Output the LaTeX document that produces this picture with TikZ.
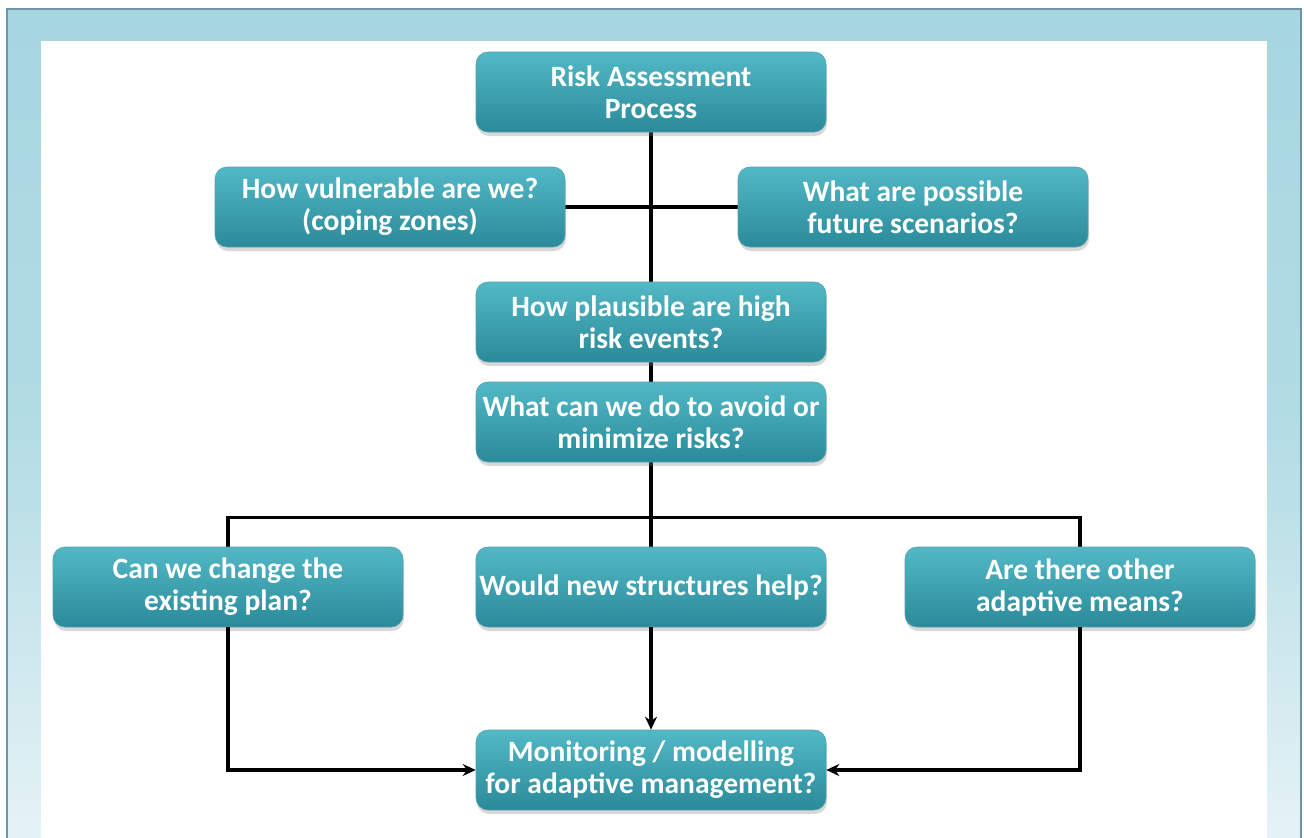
\documentclass[tikz,border=0pt]{standalone}
\usepackage{fontspec}
\setmainfont{Carlito}
\usepackage{tikz}
\usetikzlibrary{arrows.meta,shadows}
\pgfdeclarelayer{frame}
\pgfdeclarelayer{background}
\pgfsetlayers{frame,background,main}
\definecolor{framec}{HTML}{6E94A8}
\definecolor{bandtop}{HTML}{A6D6E0}
\definecolor{bandbot}{HTML}{E6F3F6}
\definecolor{boxtop}{HTML}{52B8C6}
\definecolor{boxmid}{HTML}{36A1B2}
\definecolor{boxbot}{HTML}{2A8A9A}
\tikzset{
  qbox/.style={rounded corners=12pt,minimum width=350pt,minimum height=80pt,
               top color=boxtop,middle color=boxmid,bottom color=boxbot,
               draw=boxbot!80,line width=0.6pt,text=white,align=center,
               font=\bfseries\fontsize{29.5}{32}\selectfont,
               drop shadow={opacity=0.3,shadow xshift=1pt,shadow yshift=-4pt}},
  link/.style={line width=3.6pt,black},
  flowarrow/.style={link,-{Stealth[length=13pt,width=12pt]}}}

\begin{document}
\begin{tikzpicture}[x=1pt,y=-1pt]
\useasboundingbox (0,0) rectangle (1304,838);

% frame
\begin{pgfonlayer}{frame}
\shade[top color=bandtop,bottom color=bandbot,middle color=bandtop!80!bandbot]
  (7,9) rectangle (1301,845);
\draw[framec,line width=1.5pt] (7,845) -- (7,9) -- (1301,9) -- (1301,845);
\fill[white] (41,41) rectangle (1267,845);
\end{pgfonlayer}

% boxes
\node[qbox] (risk)   at (651,92)   {Risk Assessment\\Process};
\node[qbox] (vuln)   at (390,207)  {How vulnerable are we?\\(coping zones)};
\node[qbox] (scen)   at (913,207)  {What are possible\\future scenarios?};
\node[qbox] (plaus)  at (651,322)  {How plausible are high\\risk events?};
\node[qbox] (avoid)  at (651,422)  {What can we do to avoid or\\minimize risks?};
\node[qbox] (plan)   at (228,587)  {Can we change the\\existing plan?};
\node[qbox] (struct) at (651,587)  {Would new structures help?};
\node[qbox] (means)  at (1080,587) {Are there other\\adaptive means?};
\node[qbox] (monit)  at (651,770)  {Monitoring / modelling\\for adaptive management?};

% connectors, behind the boxes
\begin{pgfonlayer}{background}
\draw[link] (risk.south) -- (plaus.north);
\draw[link] (vuln.east) -- (scen.west);
\draw[link] (plaus.south) -- (avoid.north);
\draw[link] (avoid.south) -- ++(0,55) coordinate (hub);
\draw[link] (plan.north) |- (hub) -| (means.north);
\draw[link] (hub) -- (struct.north);
\end{pgfonlayer}
\draw[flowarrow] (struct.south) -- (monit.north);
\draw[flowarrow] (plan.south) |- (monit.west);
\draw[flowarrow] (means.south) |- (monit.east);
\end{tikzpicture}
\end{document}
